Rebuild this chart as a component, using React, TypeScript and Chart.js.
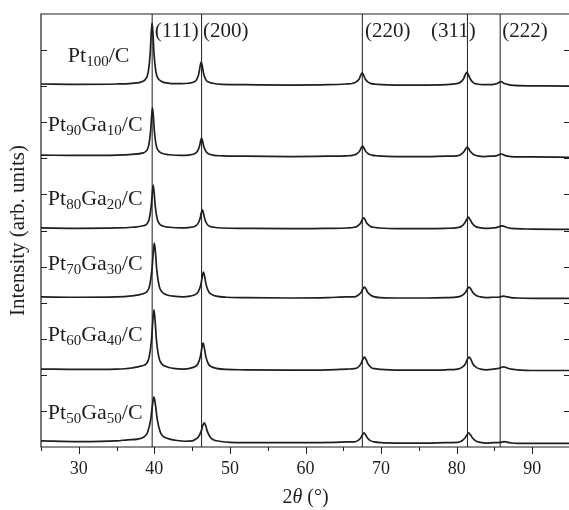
import { useEffect, useRef } from 'react';
import { Chart, registerables } from 'chart.js';

Chart.register(...registerables);

// Diffraction patterns, intensity in arb. units above each stacked baseline: [2θ (°), I]
const pt100: [number, number][] = [
  [25, 0.06], [30, 0.05], [35, 0.06], [37, 0.08], [38.45, 0.13], [38.95, 0.23], [39.2, 0.4], [39.45, 0.91],
  [39.57, 1.41], [39.7, 1.75], [39.83, 1.41], [39.95, 0.91], [40.2, 0.4], [40.45, 0.23], [40.95, 0.13], [42, 0.08],
  [43.5, 0.07], [44.5, 0.08], [45.3, 0.12], [45.6, 0.18], [45.9, 0.36], [46.05, 0.55], [46.2, 0.67], [46.35, 0.55],
  [46.5, 0.36], [46.8, 0.18], [47.1, 0.12], [47.7, 0.08], [49, 0.05], [52, 0.04], [58, 0.03], [63, 0.04],
  [65.3, 0.06], [66.3, 0.08], [66.7, 0.12], [67.1, 0.2], [67.3, 0.3], [67.5, 0.37], [67.7, 0.3], [67.9, 0.2],
  [68.3, 0.11], [68.7, 0.07], [69.5, 0.05], [72, 0.03], [76, 0.03], [78.5, 0.04], [80.0, 0.07], [80.45, 0.1],
  [80.9, 0.2], [81.13, 0.31], [81.35, 0.38], [81.57, 0.31], [81.8, 0.2], [82.25, 0.09], [82.7, 0.06], [83.5, 0.04],
  [84.5, 0.04], [85.1, 0.06], [85.45, 0.08], [85.65, 0.11], [85.85, 0.13], [86.05, 0.11], [86.25, 0.08], [86.7, 0.05],
  [87.6, 0.02], [90, 0.01], [95, 0.0],
];

const pt90ga10: [number, number][] = [
  [25, 0.09], [30, 0.08], [35, 0.09], [37, 0.11], [38.5, 0.15], [39.0, 0.22], [39.25, 0.35], [39.5, 0.75],
  [39.63, 1.14], [39.75, 1.4], [39.88, 1.14], [40.0, 0.75], [40.25, 0.35], [40.5, 0.22], [41.0, 0.14], [42, 0.1],
  [43.5, 0.08], [44.5, 0.09], [45.35, 0.13], [45.65, 0.18], [45.95, 0.32], [46.1, 0.46], [46.25, 0.56], [46.4, 0.46],
  [46.55, 0.32], [46.85, 0.18], [47.15, 0.13], [47.75, 0.09], [49, 0.07], [52, 0.06], [58, 0.05], [63, 0.06],
  [65.4, 0.07], [66.35, 0.09], [66.75, 0.12], [67.15, 0.2], [67.35, 0.28], [67.55, 0.34], [67.75, 0.28], [67.95, 0.2],
  [68.35, 0.12], [68.75, 0.09], [69.55, 0.07], [72, 0.05], [76, 0.05], [78.5, 0.06], [80.05, 0.07], [80.5, 0.1],
  [80.95, 0.18], [81.18, 0.26], [81.4, 0.31], [81.62, 0.26], [81.85, 0.18], [82.3, 0.1], [82.75, 0.07], [83.6, 0.05],
  [84.6, 0.06], [85.15, 0.07], [85.5, 0.09], [85.7, 0.11], [85.9, 0.12], [86.1, 0.11], [86.3, 0.09], [86.75, 0.06],
  [87.6, 0.04], [90, 0.04], [95, 0.03],
];

const pt80ga20: [number, number][] = [
  [25, 0.07], [30, 0.06], [35, 0.07], [37, 0.09], [38.5, 0.13], [39.04, 0.19], [39.31, 0.31], [39.58, 0.67],
  [39.72, 1.02], [39.85, 1.26], [39.98, 1.02], [40.12, 0.67], [40.39, 0.31], [40.66, 0.19], [41.2, 0.12], [42, 0.09],
  [43.5, 0.07], [44.5, 0.08], [45.4, 0.12], [45.7, 0.17], [46.03, 0.32], [46.19, 0.47], [46.35, 0.57], [46.51, 0.47],
  [46.67, 0.32], [46.99, 0.17], [47.3, 0.12], [47.9, 0.09], [49, 0.07], [52, 0.06], [58, 0.05], [63, 0.06],
  [65.5, 0.07], [66.45, 0.09], [66.85, 0.12], [67.28, 0.2], [67.49, 0.29], [67.7, 0.35], [67.91, 0.29], [68.12, 0.2],
  [68.55, 0.12], [68.95, 0.09], [69.8, 0.07], [72, 0.05], [76, 0.05], [78.5, 0.06], [80.1, 0.08], [80.6, 0.11],
  [81.07, 0.21], [81.31, 0.3], [81.55, 0.37], [81.79, 0.3], [82.03, 0.21], [82.5, 0.11], [83.0, 0.08], [83.8, 0.06],
  [84.7, 0.07], [85.2, 0.08], [85.55, 0.1], [85.78, 0.12], [86.0, 0.13], [86.22, 0.12], [86.45, 0.1], [86.9, 0.07],
  [87.8, 0.05], [90, 0.04], [95, 0.03],
];

const pt70ga30: [number, number][] = [
  [25, 0.16], [30, 0.15], [35, 0.16], [37, 0.19], [38.4, 0.24], [39.04, 0.31], [39.36, 0.46], [39.68, 0.91],
  [39.84, 1.35], [40.0, 1.65], [40.16, 1.35], [40.32, 0.91], [40.64, 0.46], [40.96, 0.31], [41.6, 0.22], [42.5, 0.18],
  [43.8, 0.16], [44.7, 0.18], [45.45, 0.23], [45.8, 0.3], [46.15, 0.5], [46.33, 0.71], [46.5, 0.85], [46.67, 0.71],
  [46.85, 0.5], [47.2, 0.3], [47.55, 0.23], [48.2, 0.18], [49.5, 0.15], [52, 0.14], [58, 0.13], [63, 0.14],
  [65.5, 0.16], [66.45, 0.16], [66.9, 0.2], [67.35, 0.28], [67.57, 0.37], [67.8, 0.43], [68.03, 0.37], [68.25, 0.28],
  [68.7, 0.2], [69.15, 0.16], [70, 0.14], [72, 0.13], [76, 0.13], [78.5, 0.14], [80.15, 0.16], [80.65, 0.19],
  [81.15, 0.28], [81.4, 0.37], [81.65, 0.43], [81.9, 0.37], [82.15, 0.28], [82.65, 0.19], [83.15, 0.16], [84, 0.14],
  [84.9, 0.15], [85.3, 0.15], [85.7, 0.16], [85.95, 0.17], [86.2, 0.18], [86.45, 0.17], [86.7, 0.16], [87.2, 0.14],
  [88, 0.13], [90, 0.12], [95, 0.12],
];

const pt60ga40: [number, number][] = [
  [25, 0.16], [30, 0.15], [35, 0.16], [37, 0.19], [38.35, 0.25], [38.99, 0.32], [39.31, 0.49], [39.63, 0.98],
  [39.79, 1.47], [39.95, 1.8], [40.11, 1.47], [40.27, 0.98], [40.59, 0.49], [40.91, 0.32], [41.55, 0.23], [42.5, 0.18],
  [43.8, 0.16], [44.7, 0.18], [45.4, 0.23], [45.75, 0.3], [46.1, 0.52], [46.28, 0.74], [46.45, 0.88], [46.62, 0.74],
  [46.8, 0.52], [47.15, 0.3], [47.5, 0.23], [48.2, 0.18], [49.5, 0.15], [52, 0.14], [58, 0.13], [63, 0.14],
  [65.5, 0.16], [66.45, 0.17], [66.9, 0.2], [67.35, 0.31], [67.57, 0.42], [67.8, 0.49], [68.03, 0.42], [68.25, 0.31],
  [68.7, 0.2], [69.15, 0.17], [70, 0.15], [72, 0.13], [76, 0.13], [78.5, 0.14], [80.15, 0.16], [80.65, 0.2],
  [81.15, 0.3], [81.4, 0.42], [81.65, 0.49], [81.9, 0.42], [82.15, 0.3], [82.65, 0.2], [83.15, 0.16], [84, 0.14],
  [84.9, 0.16], [85.3, 0.17], [85.7, 0.19], [85.95, 0.21], [86.2, 0.22], [86.45, 0.21], [86.7, 0.19], [87.2, 0.16],
  [88, 0.14], [90, 0.12], [95, 0.12],
];

const pt50ga50: [number, number][] = [
  [25, 0.17], [30, 0.15], [35, 0.17], [36.5, 0.2], [37.8, 0.22], [38.69, 0.29], [39.11, 0.41], [39.53, 0.78],
  [39.74, 1.15], [39.95, 1.39], [40.16, 1.15], [40.37, 0.78], [40.79, 0.41], [41.21, 0.29], [42.05, 0.22], [43, 0.18],
  [44, 0.16], [45, 0.17], [45.4, 0.21], [45.8, 0.27], [46.2, 0.44], [46.4, 0.59], [46.6, 0.67], [46.8, 0.59],
  [47.0, 0.44], [47.4, 0.27], [47.8, 0.2], [48.6, 0.16], [50, 0.13], [55, 0.12], [60, 0.12], [64, 0.13],
  [65.5, 0.14], [66.4, 0.14], [66.85, 0.17], [67.3, 0.25], [67.52, 0.33], [67.75, 0.39], [67.98, 0.33], [68.2, 0.25],
  [68.65, 0.17], [69.1, 0.14], [70, 0.12], [72, 0.11], [76, 0.11], [78.5, 0.12], [80.1, 0.13], [80.6, 0.16],
  [81.1, 0.25], [81.35, 0.33], [81.6, 0.39], [81.85, 0.33], [82.1, 0.25], [82.6, 0.16], [83.1, 0.13], [84, 0.11],
  [84.9, 0.12], [85.4, 0.12], [85.8, 0.13], [86.05, 0.14], [86.3, 0.15], [86.55, 0.14], [86.8, 0.13], [87.3, 0.11],
  [88, 0.1], [90, 0.1], [95, 0.1],
];

const patterns = [pt100, pt90ga10, pt80ga20, pt70ga30, pt60ga40, pt50ga50];
const stackOffsets = [10, 8, 6, 4, 2, 0];

// Sample names as [text, subscript] runs
const sampleNames: [string, string][][] = [
  [['Pt', '100'], ['/C', '']],
  [['Pt', '90'], ['Ga', '10'], ['/C', '']],
  [['Pt', '80'], ['Ga', '20'], ['/C', '']],
  [['Pt', '70'], ['Ga', '30'], ['/C', '']],
  [['Pt', '60'], ['Ga', '40'], ['/C', '']],
  [['Pt', '50'], ['Ga', '50'], ['/C', '']],
];

// Reference reflections of fcc Pt
const reflections = [39.71, 46.25, 67.52, 81.43, 85.76];
const reflectionLabels = ['(111)', '(200)', '(220)', '(311)', '(222)'];

const xTicks = [30, 40, 50, 60, 70, 80, 90];
const xMinorTicks = [25, 35, 45, 55, 65, 75, 85, 95];
const yTicks = [1, 2, 3, 4, 5, 6, 7, 8, 9, 10, 11];

// Text placement (data coordinates)
const sampleLabelAt: [number, number][] = [
  [28.55, 10.67], [25.9, 8.76], [25.9, 6.71], [25.9, 4.91], [25.9, 2.94], [25.9, 0.78],
];
const reflectionLabelX = [40.05, 46.45, 67.88, 76.62, 86.03];

const INK = '#1f1f1f';
const SERIF = "'Liberation Serif', 'Times New Roman', serif";
const CANVAS_W = 572;
const CANVAS_H = 510;

const decorations = {
  id: 'decorations',
  afterDraw(chart: any) {
    const { ctx, chartArea, scales } = chart;
    const { left, right, top, bottom } = chartArea;
    const xs = scales.x;
    const ys = scales.y;
    ctx.save();
    ctx.strokeStyle = INK;
    ctx.fillStyle = INK;

    // frame
    ctx.lineWidth = 1.2;
    ctx.beginPath();
    ctx.moveTo(left, bottom);
    ctx.lineTo(left, top);
    ctx.lineTo(right, top);
    ctx.lineTo(right, bottom);
    ctx.closePath();
    ctx.stroke();

    // x ticks, outward
    ctx.lineWidth = 1;
    ctx.beginPath();
    for (const v of xTicks) {
      const px = Math.round(xs.getPixelForValue(v)) + 0.5;
      ctx.moveTo(px, bottom);
      ctx.lineTo(px, bottom + 7);
    }
    for (const v of xMinorTicks) {
      const px = Math.round(xs.getPixelForValue(v)) + 0.5;
      ctx.moveTo(px, bottom);
      ctx.lineTo(px, bottom + 4);
    }
    // y ticks, inward on both sides
    for (const v of yTicks) {
      const py = Math.round(ys.getPixelForValue(v)) + 0.5;
      ctx.moveTo(left, py);
      ctx.lineTo(left + 6, py);
      ctx.moveTo(right, py);
      ctx.lineTo(right - 6, py);
    }
    ctx.stroke();

    // reflection indices
    ctx.font = `21px ${SERIF}`;
    ctx.textBaseline = 'alphabetic';
    ctx.textAlign = 'left';
    reflectionLabels.forEach((t, i) => {
      ctx.fillText(t, xs.getPixelForValue(reflectionLabelX[i]), top + 22.5);
    });

    // sample names with subscripts
    sampleNames.forEach((runs, i) => {
      let px = xs.getPixelForValue(sampleLabelAt[i][0]);
      const py = ys.getPixelForValue(sampleLabelAt[i][1]);
      for (const [main, sub] of runs) {
        ctx.font = `22px ${SERIF}`;
        ctx.fillText(main, px, py);
        px += ctx.measureText(main).width;
        if (sub) {
          ctx.font = `15px ${SERIF}`;
          ctx.fillText(sub, px, py + 4);
          px += ctx.measureText(sub).width;
        }
      }
    });

    // x-axis title: 2θ (°)
    const parts: [string, string][] = [['2', 'normal'], ['θ', 'italic'], [' (°)', 'normal']];
    let total = 0;
    for (const [t, s] of parts) {
      ctx.font = `${s} 20px ${SERIF}`;
      total += ctx.measureText(t).width;
    }
    let tx = (left + right) / 2 - total / 2;
    for (const [t, s] of parts) {
      ctx.font = `${s} 20px ${SERIF}`;
      ctx.fillText(t, tx, 503);
      tx += ctx.measureText(t).width;
    }
    ctx.restore();
  },
};

export default function App() {
  const canvasRef = useRef<HTMLCanvasElement>(null);

  useEffect(() => {
    const canvas = canvasRef.current;
    if (!canvas) return;

    const traceSets = patterns.map((pts, i) => ({
      label: sampleNames[i].map((r) => r[0] + r[1]).join(''),
      data: pts.map(([x, y]) => ({ x, y: y + stackOffsets[i] })),
      borderColor: INK,
      borderWidth: 1.7,
      pointRadius: 0,
      fill: false,
      cubicInterpolationMode: 'monotone' as const,
    }));

    const refSets = reflections.map((p, i) => ({
      label: reflectionLabels[i],
      data: [{ x: p, y: 0 }, { x: p, y: 12 }],
      borderColor: INK,
      borderWidth: 1,
      pointRadius: 0,
      fill: false,
      tension: 0,
    }));

    const chart = new Chart(canvas, {
      type: 'line',
      data: { datasets: [...refSets, ...traceSets] as any },
      options: {
        responsive: false,
        animation: false,
        devicePixelRatio: 1,
        layout: { padding: { top: 14, right: 2, left: 0, bottom: 0 } },
        plugins: { legend: { display: false }, tooltip: { enabled: false } },
        scales: {
          x: {
            type: 'linear',
            min: 25,
            max: 95,
            grid: { display: false, drawTicks: false },
            border: { display: false },
            afterBuildTicks: (scale: any) => {
              scale.ticks = xTicks.map((v) => ({ value: v }));
            },
            afterFit: (scale: any) => {
              scale.height = 63;
            },
            ticks: {
              padding: 11,
              color: INK,
              maxRotation: 0,
              autoSkip: false,
              font: { family: SERIF, size: 18 },
            },
          },
          y: {
            type: 'linear',
            min: 0,
            max: 12,
            grid: { display: false, drawTicks: false },
            border: { display: false },
            ticks: { display: false },
            afterFit: (scale: any) => {
              scale.width = 41;
            },
            title: {
              display: true,
              text: 'Intensity (arb. units)',
              color: INK,
              font: { family: SERIF, size: 21 },
              padding: { top: 6, bottom: 0 },
            },
          },
        },
      },
      plugins: [decorations],
    });

    return () => chart.destroy();
  }, []);

  return (
    <div
      style={{
        position: 'fixed',
        left: 0,
        top: 0,
        width: 569,
        height: 510,
        overflow: 'hidden',
        background: '#fff',
      }}
    >
      <canvas
        ref={canvasRef}
        width={CANVAS_W}
        height={CANVAS_H}
        style={{ display: 'block', width: CANVAS_W, height: CANVAS_H }}
      />
    </div>
  );
}
